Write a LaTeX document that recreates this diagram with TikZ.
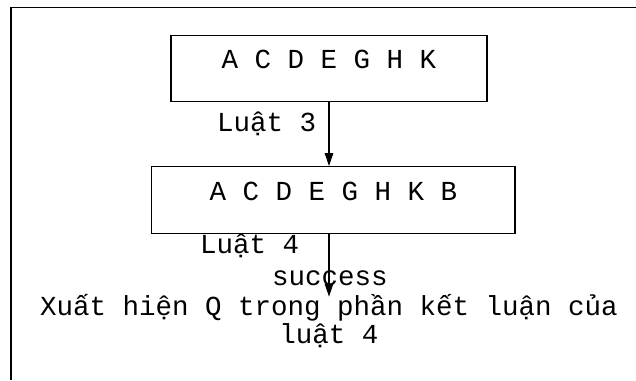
\documentclass[tikz,border=0pt]{standalone}
\usepackage{fontspec}
\setmainfont{Liberation Mono}
\usetikzlibrary{arrows.meta}
\begin{document}
\begin{tikzpicture}[x=1pt,y=1pt,
  every node/.style={font=\fontsize{27.5}{29}\selectfont, inner sep=0pt},
  boxnode/.style={draw, line width=1.3pt, anchor=base},
  lbl/.style={anchor=base west},
  flow/.style={line width=1.3pt, -{Triangle[length=13pt,width=8.5pt]}}]
\useasboundingbox (0,0) rectangle (636,-380);
% outer frame (left and top edges visible)
\coordinate (fbl) at (11,-380);
\coordinate (ftl) at (11,-7.5);
\coordinate (ftr) at (636,-7.5);
\draw[line width=1.5pt] (fbl) -- (ftl) -- (ftr);
% boxes
\node[boxnode, minimum width=316pt, text height=32.8pt, text depth=33.4pt] (box1) at (329,-68.3) {A C D E G H K};
\node[boxnode, minimum width=363.3pt, text height=33.3pt, text depth=33.3pt] (box2) at (333.35,-200) {A C D E G H K B};
% labels
\node[lbl] (lbl3) at (217,-131.7) {Luật 3};
\node[lbl] (lbl4) at (200,-253.3) {Luật 4};
\node[anchor=base] (succ) at (330,-285) {success};
\node[anchor=base, align=center] (concl) at (329,-343) {Xuất hiện Q trong phần kết luận của\\[-1pt]luật 4};
% connectors
\coordinate (end2) at (329,-296.7);
\draw[flow] (box1.south) -- (box1.south |- box2.north);
\draw[flow] (box2.south -| box1.south) -- (end2);
\end{tikzpicture}
\end{document}
